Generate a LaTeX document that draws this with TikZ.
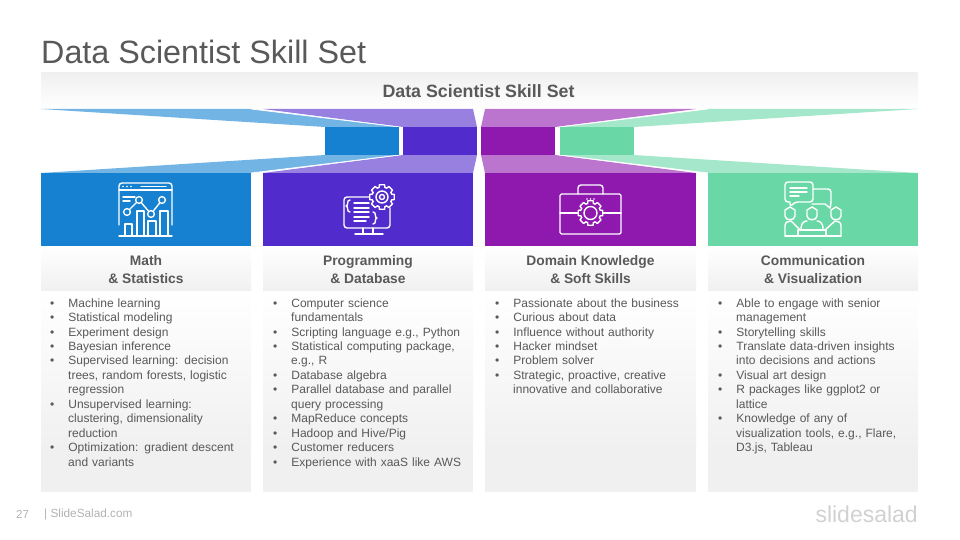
\documentclass[tikz,border=0pt]{standalone}
\usepackage{fontspec}
\setmainfont{Liberation Sans}
\usetikzlibrary{calc}
\definecolor{mathblue}{HTML}{1581D0}
\definecolor{progviolet}{HTML}{512BCB}
\definecolor{domainpurple}{HTML}{8F19AF}
\definecolor{commgreen}{HTML}{69D7A6}
\definecolor{inkgray}{HTML}{595959}
\definecolor{panelgray}{HTML}{F0F0F0}
\tikzset{
  bandtop/.style = {draw = none, top color = panelgray, bottom color = white},
  bandlow/.style = {draw = none, top color = white, bottom color = panelgray},
  headlabel/.style = {align = center, text = inkgray, font = \fontsize{13.8}{18}\selectfont\bfseries, inner sep = 0pt},
  itemlabel/.style = {anchor = north west, text width = 198pt, text = inkgray, inner sep = 0pt, font = \fontsize{12}{14.45}\selectfont},
  iconline/.style = {draw = white, line width = 1.4pt, line cap = round, line join = round}
}
\newenvironment{skillitems}{\begin{list}{\textbullet}{\setlength\leftmargin{18pt}\setlength\labelwidth{4pt}\setlength\labelsep{14pt}\setlength\itemsep{0pt}\setlength\parsep{0pt}\setlength\topsep{0pt}\setlength\partopsep{0pt}}}{\end{list}}
\newcommand{\gearicon}[4]{% centre, outer radius, root radius, fill
  \draw [iconline, fill = #4] ($(#1)+(-12:#2)$)
    \foreach \a in {0,45,...,315} {
      -- ($(#1)+(\a-12:#2)$) -- ($(#1)+(\a+12:#2)$) -- ($(#1)+(\a+17:#3)$) -- ($(#1)+(\a+28:#3)$)
    } -- cycle;
}
\begin{document}
\begin{tikzpicture}[x = 1pt, y = -1pt]
  \useasboundingbox (0,0) rectangle (960,540);

  \node [anchor = west, text = inkgray, font = \fontsize{32.3}{36}\selectfont, inner sep = 0pt] (slidetitle) at (41,52) {Data Scientist Skill Set};

  \path [bandtop] (41,73) rectangle (918,109);
  \node [headlabel, font = \fontsize{17.8}{20}\selectfont\bfseries] (bandtitle) at (478.5,91) {Data Scientist Skill Set};

  % funnels: outer ones first, the inner ones lie on top
  \fill [mathblue!60] (41,109) -- (251,109) -- (399,127) -- (325,127) -- cycle;
  \fill [mathblue!60] (325,155) -- (399,155) -- (251,173) -- (41,173) -- cycle;
  \fill [commgreen!60] (708,109) -- (918,109) -- (634,127) -- (560,127) -- cycle;
  \fill [commgreen!60] (560,155) -- (634,155) -- (918,173) -- (708,173) -- cycle;
  \fill [progviolet!60] (263,109) -- (473,109) -- (477,127) -- (403,127) -- cycle;
  \fill [progviolet!60] (403,155) -- (477,155) -- (473,173) -- (263,173) -- cycle;
  \fill [domainpurple!60] (485,109) -- (696,109) -- (555,127) -- (481,127) -- cycle;
  \fill [domainpurple!60] (481,155) -- (555,155) -- (696,173) -- (485,173) -- cycle;
  \draw [white, line width = .7pt] (251,109) -- (399,127) (399,155) -- (251,173);
  \draw [white, line width = .7pt] (708,109) -- (560,127) (560,155) -- (708,173);

  \fill [mathblue] (325,127) rectangle (399,155);
  \fill [progviolet] (403,127) rectangle (477,155);
  \fill [domainpurple] (481,127) rectangle (555,155);
  \fill [commgreen] (560,127) rectangle (634,155);

  \foreach \xa/\xb/\col in {41/251/mathblue, 263/473/progviolet, 485/696/domainpurple, 708/918/commgreen} {
    \fill [\col] (\xa,173) rectangle (\xb,246);
    \path [bandlow] (\xa,246) rectangle (\xb,291);
    \path [bandlow] (\xa,291) rectangle (\xb,450);
    \fill [panelgray] (\xa,449.5) rectangle (\xb,492);
  }

  \node [headlabel] (mathhead) at (146,269.5) {Math\\\& Statistics};
  \node [headlabel] (proghead) at (368,269.5) {Programming\\\& Database};
  \node [headlabel] (domainhead) at (590.5,269.5) {Domain Knowledge\\\& Soft Skills};
  \node [headlabel] (commhead) at (813,269.5) {Communication\\\& Visualization};

  \node [itemlabel] (mathitems) at (50,292.5) {\begin{skillitems}
    \item Machine learning
    \item Statistical modeling
    \item Experiment design
    \item Bayesian inference
    \item Supervised learning: decision\newline trees, random forests, logistic\newline regression
    \item Unsupervised learning:\newline clustering, dimensionality\newline reduction
    \item Optimization: gradient descent\newline and variants
  \end{skillitems}};
  \node [itemlabel] (progitems) at (273,292.5) {\begin{skillitems}
    \item Computer science\newline fundamentals
    \item Scripting language e.g., Python
    \item Statistical computing package,\newline e.g., R
    \item Database algebra
    \item Parallel database and parallel\newline query processing
    \item MapReduce concepts
    \item Hadoop and Hive/Pig
    \item Customer reducers
    \item Experience with xaaS like AWS
  \end{skillitems}};
  \node [itemlabel] (domainitems) at (495,292.5) {\begin{skillitems}
    \item Passionate about the business
    \item Curious about data
    \item Influence without authority
    \item Hacker mindset
    \item Problem solver
    \item Strategic, proactive, creative\newline innovative and collaborative
  \end{skillitems}};
  \node [itemlabel] (commitems) at (718,292.5) {\begin{skillitems}
    \item Able to engage with senior\newline management
    \item Storytelling skills
    \item Translate data-driven insights\newline into decisions and actions
    \item Visual art design
    \item R packages like ggplot2 or\newline lattice
    \item Knowledge of any of\newline visualization tools, e.g., Flare,\newline D3.js, Tableau
  \end{skillitems}};

  % math icon
  \draw [iconline, rounded corners = 3pt] (119,225) -- (119,183) -- (172,183) -- (172,225);
  \draw [iconline] (119,190) -- (172,190) (141,186.5) -- (166,186.5) (119,236) -- (172,236);
  \draw [iconline] (123,197) -- (135,197) (123,201) -- (130,201);
  \foreach \bx/\by/\bw in {125/224/7, 137/211/7, 148/221/8, 160/211/8} {
    \draw [iconline] (\bx,236) -- (\bx,\by) -- ({\bx+\bw},\by) -- ({\bx+\bw},236);
  }
  \draw [iconline] (127,212) -- (139,200) -- (151,214) -- (162,200);
  \foreach \cx/\cy in {127/212, 139/200, 151/214, 162/200} {
    \draw [iconline, fill = mathblue] (\cx,\cy) circle (3.4);
  }
  \fill [white] (123,186.5) circle (.8) (127,186.5) circle (.8) (131,186.5) circle (.8);

  % programming icon
  \draw [iconline, rounded corners = 3pt] (373,197) -- (344,197) -- (344,228) -- (390,228) -- (390,208);
  \draw [iconline] (363,228) -- (363,234) (373,228) -- (373,234) (355,234) -- (383,234);
  \foreach \ly/\lx in {203/369, 208/369, 212/369, 217/369, 221/366} {
    \draw [iconline] (354,\ly) -- (\lx,\ly);
  }
  \draw [iconline] (350,200) .. controls (346,200) and (349,206) .. (346,206) .. controls (349,206) and (346,212) .. (350,212);
  \draw [iconline] (373,212) .. controls (377,212) and (374,218) .. (377,218) .. controls (374,218) and (377,224) .. (373,224);
  \gearicon{382,197}{12.5}{10}{progviolet}
  \draw [iconline] (382,197) circle (6) (382,197) circle (2.5);

  % domain icon
  \draw [iconline, rounded corners = 1.5pt] (560,194) rectangle (621,234);
  \draw [iconline, rounded corners = 3pt] (578,194) -- (578,185) -- (603,185) -- (603,194);
  \draw [iconline] (560,213) -- (578,213) (603,213) -- (621,213);
  \gearicon{590.5,213}{12.5}{10}{domainpurple}
  \draw [iconline] (590.5,213) circle (6.5);
  \fill [white] (587,199) circle (.8) (590.5,199) circle (.8) (594,199) circle (.8);

  % communication icon
  \draw [iconline, rounded corners = 3pt] (790,202) -- (790,207) -- (795,202) -- (813,202) -- (813,182) -- (785,182) -- (785,202) -- (790,202);
  \draw [iconline] (790,188) -- (807,188) (790,192) -- (807,192) (790,196) -- (799,196);
  \draw [iconline, rounded corners = 3pt] (813,189) -- (831,189) -- (831,204) -- (830,208);
  \draw [iconline] (830,208) -- (825,204) -- (812,204);
  \foreach \hx in {790,812,836} {
    \draw [iconline] (\hx-5,210) -- (\hx-5,216) .. controls (\hx-5,221) and (\hx+5,221) .. (\hx+5,216) -- (\hx+5,210) -- (\hx,207) -- cycle;
  }
  \draw [iconline] (785,236) -- (785,226) .. controls (785,222) and (788,221) .. (791,221) -- (800,230);
  \draw [iconline] (841,236) -- (841,226) .. controls (841,222) and (838,221) .. (835,221) -- (825,230);
  \draw [iconline] (801,229) .. controls (801,222) and (805,221) .. (807,221) (823,229) .. controls (823,222) and (819,221) .. (817,221);
  \draw [iconline] (785,236) -- (841,236) (798,230) -- (826,230) (798,230) -- (798,236) (826,230) -- (826,236);

  % footer
  \node [anchor = west, text = black!30, font = \fontsize{11.5}{14}\selectfont, inner sep = 0pt] (pagenum) at (16,514) {27};
  \node [anchor = west, text = black!30, font = \fontsize{11.8}{14}\selectfont, inner sep = 0pt] (sitename) at (44,514) {| SlideSalad.com};
  \node [anchor = east, text = black!18, font = \fontsize{23}{28}\selectfont, inner sep = 0pt] (brandname) at (918,514) {slidesalad};
\end{tikzpicture}
\end{document}
